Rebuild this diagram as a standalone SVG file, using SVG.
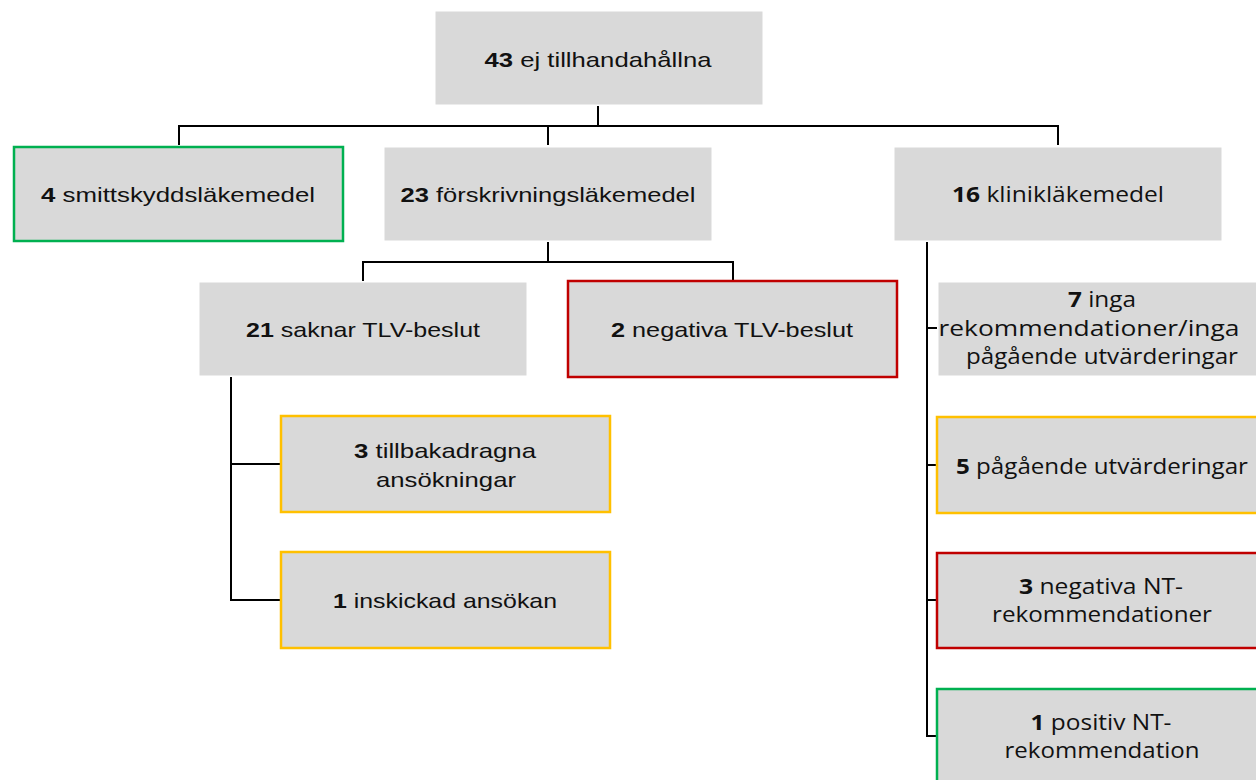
<svg xmlns="http://www.w3.org/2000/svg" width="1256" height="780" viewBox="0 0 1256 780">
<style>
.box{fill:#d9d9d9;stroke:#d9d9d9;stroke-width:1}
.g{stroke:#00b050;stroke-width:2.5}
.r{stroke:#c00000;stroke-width:2.5}
.y{stroke:#ffc000;stroke-width:2.5}
text{font-family:"Liberation Sans","DejaVu Sans",sans-serif;font-size:21px;fill:#111;text-anchor:middle}
.b{font-weight:bold}
.w{font-family:"Open Sans","Noto Sans",sans-serif;font-size:21px}
.c{fill:none;stroke:#000;stroke-width:2}
</style>
<g id="connectors">
<path class="c" d="M598 106V126M179 145V126H1058V145M548 126V145"/>
<path class="c" d="M548 242V262M363 281V262H733V280"/>
<path class="c" d="M231 377V600H281M231 464H281"/>
<path class="c" d="M927 242V736H937M927 328H937M927 465H937M927 600H937"/>
</g>
<g id="n43"><rect class="box" x="436" y="12" width="326" height="92"/><text x="598" y="67" textLength="227" lengthAdjust="spacingAndGlyphs"><tspan class="b">43</tspan> ej tillhandahållna</text></g>
<g id="n4smitt"><rect class="box g" x="14" y="147" width="329" height="94"/><text x="178" y="202" textLength="274" lengthAdjust="spacingAndGlyphs"><tspan class="b">4</tspan> smittskyddsläkemedel</text></g>
<g id="n23"><rect class="box" x="385" y="148" width="326" height="92"/><text x="548" y="202" textLength="295" lengthAdjust="spacingAndGlyphs"><tspan class="b">23</tspan> förskrivningsläkemedel</text></g>
<g id="n16"><rect class="box" x="895" y="148" width="326" height="92"/><text class="w" x="1058" y="202" textLength="212" lengthAdjust="spacingAndGlyphs"><tspan class="b">16</tspan> klinikläkemedel</text></g>
<g id="n21"><rect class="box" x="200" y="283" width="326" height="92"/><text x="363" y="337" textLength="234" lengthAdjust="spacingAndGlyphs"><tspan class="b">21</tspan> saknar TLV-beslut</text></g>
<g id="n2neg"><rect class="box r" x="568" y="281" width="329" height="96"/><text x="732" y="337" textLength="242" lengthAdjust="spacingAndGlyphs"><tspan class="b">2</tspan> negativa TLV-beslut</text></g>
<g id="n3till"><rect class="box y" x="281" y="416" width="329" height="96"/><text x="445" y="458" textLength="182" lengthAdjust="spacingAndGlyphs"><tspan class="b">3</tspan> tillbakadragna</text><text x="446" y="487" textLength="140" lengthAdjust="spacingAndGlyphs">ansökningar</text></g>
<g id="n1insk"><rect class="box y" x="281" y="552" width="329" height="96"/><text x="445" y="608" textLength="224" lengthAdjust="spacingAndGlyphs"><tspan class="b">1</tspan> inskickad ansökan</text></g>
<g id="n7inga"><rect class="box" x="939" y="283" width="320" height="92"/><text class="w" x="1102" y="307" textLength="68" lengthAdjust="spacingAndGlyphs"><tspan class="b">7</tspan> inga</text><text class="w" x="1089" y="336" textLength="301" lengthAdjust="spacingAndGlyphs">rekommendationer/inga</text><text class="w" x="1102" y="364" textLength="272" lengthAdjust="spacingAndGlyphs">pågående utvärderingar</text></g>
<g id="n5pag"><rect class="box y" x="937" y="417" width="330" height="96"/><text class="w" x="1102" y="474" textLength="292" lengthAdjust="spacingAndGlyphs"><tspan class="b">5</tspan> pågående utvärderingar</text></g>
<g id="n3negnt"><rect class="box r" x="937" y="553" width="330" height="95"/><text class="w" x="1101" y="594" textLength="164" lengthAdjust="spacingAndGlyphs"><tspan class="b">3</tspan> negativa NT-</text><text class="w" x="1102" y="622" textLength="220" lengthAdjust="spacingAndGlyphs">rekommendationer</text></g>
<g id="n1pos"><rect class="box g" x="937" y="689" width="330" height="100"/><text class="w" x="1101" y="730" textLength="141" lengthAdjust="spacingAndGlyphs"><tspan class="b">1</tspan> positiv NT-</text><text class="w" x="1102" y="758" textLength="195" lengthAdjust="spacingAndGlyphs">rekommendation</text></g>
</svg>
